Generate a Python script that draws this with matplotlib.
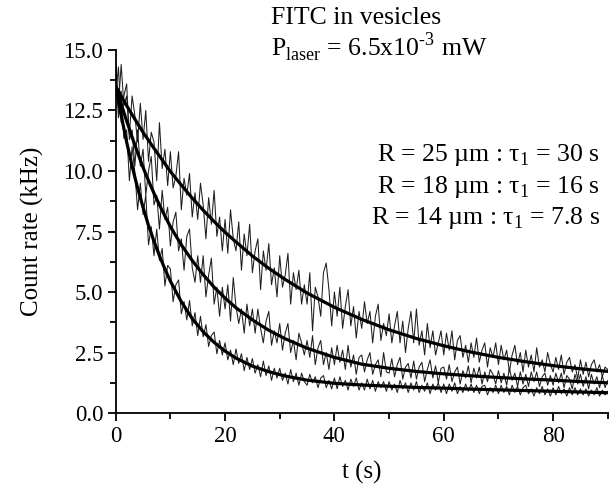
import numpy as np
import matplotlib
matplotlib.use('Agg')
import matplotlib.pyplot as plt
from matplotlib.ticker import MultipleLocator

plt.rcParams['font.family'] = ['Liberation Serif', 'DejaVu Serif']
plt.rcParams['mathtext.fontset'] = 'custom'
plt.rcParams['mathtext.rm'] = 'Liberation Serif'

# ===== raw traces (one sample every 0.5 s, 0 .. 90 s) =====
t_trace = np.arange(181) * 0.5

trace_25um = [
    14.4, 12.7, 14.4, 12.7, 13.1, 11.5, 13.1, 12.3, 11.2, 12.8,
    11.3, 12.5, 10.4, 11.6, 11.2, 9.6, 12.0, 10.1, 10.9, 9.4,
    10.8, 9.3, 9.8, 10.8, 8.4, 9.7, 9.0, 9.9, 8.1, 9.1,
    8.0, 9.5, 8.6, 7.2, 8.9, 7.8, 9.2, 7.3, 8.1, 6.7,
    8.0, 6.6, 8.4, 7.2, 6.7, 7.9, 5.9, 7.4, 6.5, 7.8,
    5.8, 6.7, 7.2, 5.1, 6.7, 5.9, 7.0, 5.3, 6.0, 4.8,
    6.5, 5.2, 5.7, 6.6, 4.5, 5.8, 5.1, 5.9, 4.5, 5.3,
    4.5, 5.8, 3.4, 5.2, 4.8, 4.0, 5.8, 6.2, 5.1, 3.6,
    5.0, 4.0, 5.2, 3.5, 4.4, 5.1, 3.6, 4.4, 3.1, 4.2,
    3.5, 4.6, 3.7, 4.2, 2.9, 4.0, 4.5, 3.0, 3.7, 3.2,
    4.1, 2.9, 3.6, 4.2, 2.9, 3.8, 2.5, 3.5, 4.2, 2.9,
    4.3, 2.8, 3.4, 2.4, 3.7, 2.7, 3.4, 2.4, 2.9, 3.4,
    2.4, 3.3, 2.6, 3.4, 2.2, 3.0, 3.2, 2.3, 2.8, 2.1,
    2.9, 2.3, 3.1, 2.1, 2.6, 2.9, 1.9, 2.7, 2.3, 2.9,
    2.0, 2.8, 2.2, 2.6, 1.7, 2.4, 2.8, 2.0, 2.5, 1.7,
    2.6, 1.9, 2.4, 1.7, 2.7, 1.9, 2.2, 1.7, 2.5, 2.0,
    1.7, 2.3, 1.8, 2.4, 1.6, 2.1, 2.3, 1.7, 2.0, 1.4,
    2.2, 1.6, 2.1, 1.5, 2.0, 2.2, 1.7, 2.0, 1.5, 1.9, 1.8,
]

trace_18um = [
    13.1, 14.3, 12.0, 13.1, 13.6, 11.3, 11.7, 10.2, 11.7, 10.2,
    10.9, 9.0, 10.0, 10.6, 8.6, 9.0, 7.6, 9.2, 8.0, 8.5,
    6.9, 7.9, 8.3, 6.7, 7.2, 5.9, 7.3, 7.6, 6.0, 5.4,
    6.5, 5.4, 6.5, 4.8, 5.7, 6.4, 4.5, 5.2, 4.0, 5.2,
    4.3, 5.3, 3.8, 5.6, 4.4, 3.7, 4.3, 3.3, 4.5, 3.6,
    4.3, 3.3, 4.3, 3.5, 2.9, 3.8, 4.2, 2.8, 3.4, 2.9,
    3.7, 2.6, 3.3, 3.7, 2.5, 3.0, 2.2, 3.3, 2.9, 2.4,
    3.0, 2.3, 3.2, 2.0, 2.7, 3.0, 2.0, 2.5, 1.8, 2.7,
    2.0, 2.8, 2.1, 2.6, 1.8, 2.8, 1.9, 2.4, 1.6, 2.3,
    2.4, 1.7, 2.2, 2.5, 1.6, 2.0, 2.2, 1.5, 2.5, 1.7,
    1.65, 2.25, 1.5, 2.0, 2.3, 1.4, 1.9, 2.05, 1.45, 2.15,
    1.4, 1.9, 2.1, 1.3, 1.8, 2.2, 1.45, 1.95, 1.25, 1.85,
    1.9, 1.4, 2.0, 1.3, 1.7, 1.9, 1.2, 1.75, 1.45, 1.95,
    1.25, 1.85, 1.45, 1.9, 1.2, 1.7, 1.3, 1.8, 1.6, 1.2,
    1.75, 1.25, 1.65, 1.15, 1.85, 1.35, 1.65, 1.1, 1.7, 1.2,
    1.6, 1.1, 1.7, 1.3, 1.7, 1.1, 1.5, 1.65, 1.15, 1.55,
    1.15, 1.65, 1.25, 1.65, 1.05, 1.55, 1.4, 1.0, 1.6, 1.2,
    1.6, 1.1, 1.5, 1.0, 1.6, 1.2, 1.5, 1.05, 1.55, 1.05, 1.35,
]

trace_14um = [
    14.3, 12.2, 13.3, 11.35, 11.7, 9.6, 11.0, 9.95, 8.4, 9.5,
    8.2, 9.0, 6.95, 7.7, 6.5, 7.6, 6.3, 6.8, 5.25, 6.1,
    5.95, 4.6, 5.3, 5.5, 4.1, 4.6, 3.85, 4.65, 3.6, 4.15,
    3.2, 4.0, 3.15, 3.65, 2.75, 3.2, 3.35, 2.45, 3.0, 2.4,
    2.9, 2.2, 2.6, 2.0, 2.65, 2.05, 2.45, 1.75, 2.3, 1.8,
    2.25, 1.65, 2.0, 1.5, 2.15, 1.55, 1.95, 1.35, 1.85, 1.45,
    1.85, 1.35, 1.65, 1.2, 1.8, 1.3, 1.65, 1.15, 1.65, 1.3,
    1.15, 1.6, 1.25, 1.5, 1.05, 1.45, 1.55, 1.05, 1.35, 1.0,
    1.45, 1.0, 1.5, 1.1, 1.35, 0.95, 1.4, 1.1, 1.45, 0.95,
    1.25, 0.95, 1.4, 1.0, 1.35, 0.9, 1.3, 1.05, 1.3, 0.9,
    1.3, 0.95, 1.2, 0.85, 1.35, 1.0, 1.25, 0.85, 1.25, 0.95,
    1.3, 0.85, 1.15, 0.9, 1.25, 0.8, 1.2, 0.95, 1.25, 0.85,
    1.2, 0.8, 1.2, 0.9, 1.25, 0.8, 1.1, 0.85, 1.2, 0.9,
    1.2, 0.85, 1.15, 0.8, 1.1, 1.15, 0.75, 1.05, 0.85, 1.15,
    0.8, 1.15, 0.85, 1.1, 0.75, 1.15, 0.85, 1.1, 0.75, 1.05,
    1.15, 0.8, 1.0, 0.7, 1.05, 0.8, 1.1, 0.75, 1.0, 0.7,
    1.05, 0.75, 1.1, 0.8, 1.0, 0.7, 1.05, 0.75, 1.05, 0.75,
    1.0, 0.75, 1.0, 0.7, 0.95, 0.75, 1.05, 0.7, 0.95, 0.75, 0.9,
]

# ===== fitted curves =====
t_fit = [0, 1, 2, 3, 4, 5, 6, 7, 8, 9, 10, 12, 14, 16, 18, 20, 22, 25, 28, 31,
         35, 40, 45, 50, 55, 60, 65, 70, 75, 80, 85, 90]
fit_25um = [13.5, 13.1, 12.7, 12.33, 11.96, 11.6, 11.27, 10.94, 10.62, 10.3,
            9.98, 9.42, 8.88, 8.38, 7.91, 7.47, 7.07, 6.49, 5.98, 5.52,
            4.96, 4.37, 3.87, 3.44, 3.08, 2.78, 2.52, 2.30, 2.12, 1.96, 1.83, 1.72]
fit_18um = [13.5, 12.77, 12.07, 11.4, 10.76, 10.15, 9.6, 9.08, 8.6, 8.14,
            7.7, 6.95, 6.3, 5.72, 5.2, 4.75, 4.35, 3.85, 3.42, 3.07,
            2.68, 2.3, 2.02, 1.85, 1.72, 1.62, 1.54, 1.47, 1.41, 1.36, 1.30, 1.25]
fit_14um = [13.5, 12.3, 11.2, 10.2, 9.3, 8.5, 7.75, 7.1, 6.5, 5.95,
            5.45, 4.6, 3.9, 3.36, 2.92, 2.56, 2.27, 1.94, 1.71, 1.53,
            1.36, 1.23, 1.16, 1.11, 1.06, 1.03, 0.99, 0.96, 0.93, 0.90, 0.87, 0.84]

labels = ['R = 25 µm : τ$_{\\rm 1}$ = 30 s',
          'R = 18 µm : τ$_{\\rm 1}$ = 16 s',
          'R = 14 µm : τ$_{\\rm 1}$ = 7.8 s']

fig = plt.figure(figsize=(6.09, 4.90), dpi=100)
ax = fig.add_axes([0.19, 0.157, 0.808, 0.741])

# noisy raw traces
for tr in (trace_25um, trace_18um, trace_14um):
    ax.plot(t_trace, tr, color='#1e1e1e', lw=0.75)
# fits on top
for ft in (fit_25um, fit_18um, fit_14um):
    ax.plot(t_fit, ft, color='black', lw=2.3, solid_capstyle='round')

ax.set_xlim(0, 90)
ax.set_ylim(0, 15)
ax.xaxis.set_major_locator(MultipleLocator(20))
ax.xaxis.set_minor_locator(MultipleLocator(10))
ax.yaxis.set_major_locator(MultipleLocator(2.5))
ax.yaxis.set_minor_locator(MultipleLocator(1.25))
ax.yaxis.set_major_formatter(matplotlib.ticker.FormatStrFormatter('%.1f'))
ax.spines['top'].set_visible(False)
ax.spines['right'].set_visible(False)
for s in ('left', 'bottom'):
    ax.spines[s].set_linewidth(1.3)
ax.tick_params(which='major', direction='out', length=6, width=1.3, labelsize=16.5, pad=3)
ax.tick_params(which='minor', direction='out', length=4, width=1.3)

ax.set_xlabel('t (s)', fontsize=18, labelpad=10)
ax.set_ylabel('Count rate (kHz)', fontsize=18, labelpad=14)

fig.text(271 / 609, 1 - 18 / 490, 'FITC in vesicles', fontsize=18.5, va='center', ha='left')
fig.text(271 / 609, 1 - 47 / 490, 'P$_{\\rm laser}$ = 6.5x10$^{\\rm \u20103}$ mW',
         fontsize=18.5, va='center', ha='left')
for i, lab in enumerate(labels):
    fig.text(600 / 609, 1 - (155 + 31.5 * i) / 490, lab, fontsize=18.5, va='center', ha='right')

fig.savefig('out.png', dpi=100)
